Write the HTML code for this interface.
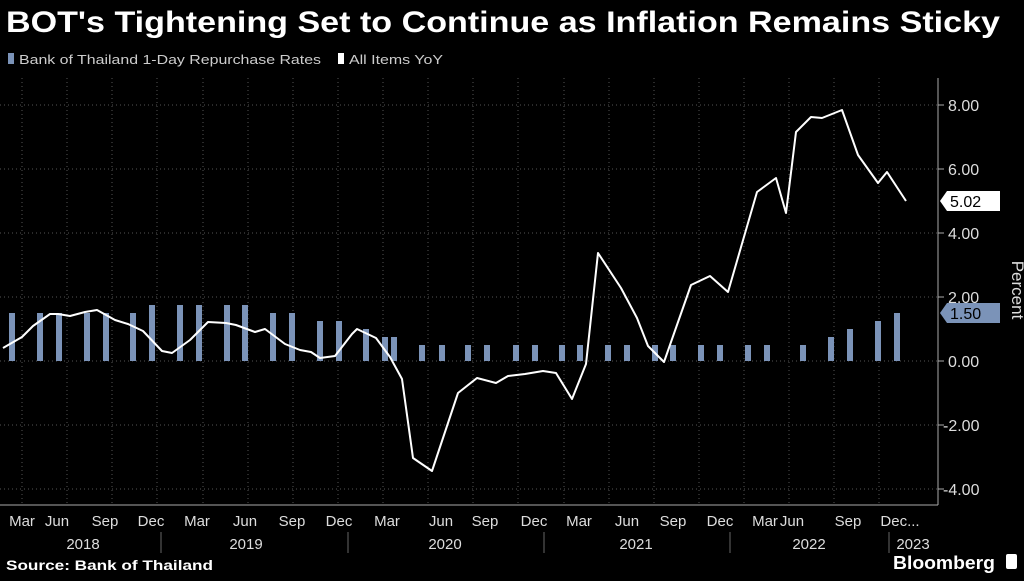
<!DOCTYPE html>
<html><head><meta charset="utf-8"><style>
body{margin:0;background:#000;width:1024px;height:576px;overflow:hidden;font-family:"Liberation Sans",sans-serif;color:#fff}
</style></head><body>
<svg width="1024" height="576" xmlns="http://www.w3.org/2000/svg" font-family="Liberation Sans, sans-serif">
<rect width="1024" height="576" fill="#000"/>
<text x="6" y="32" font-size="30" font-weight="bold" fill="#fff" textLength="994" lengthAdjust="spacingAndGlyphs">BOT's Tightening Set to Continue as Inflation Remains Sticky</text>
<rect x="8" y="53" width="6" height="11" fill="#7b93b8"/>
<text x="19" y="64" font-size="13" fill="#ccc" textLength="302" lengthAdjust="spacingAndGlyphs">Bank of Thailand 1-Day Repurchase Rates</text>
<rect x="338" y="53" width="6" height="11" fill="#fff"/>
<text x="349" y="64" font-size="13" fill="#ccc" textLength="94" lengthAdjust="spacingAndGlyphs">All Items YoY</text>
<g stroke="#555" stroke-dasharray="1,3" stroke-width="1">
<line x1="0" y1="105" x2="938" y2="105"/><line x1="0" y1="169" x2="938" y2="169"/><line x1="0" y1="233" x2="938" y2="233"/><line x1="0" y1="297" x2="938" y2="297"/><line x1="0" y1="361" x2="938" y2="361"/><line x1="0" y1="425" x2="938" y2="425"/><line x1="0" y1="489" x2="938" y2="489"/>
<line x1="22" y1="78" x2="22" y2="505"/><line x1="67" y1="78" x2="67" y2="505"/><line x1="112" y1="78" x2="112" y2="505"/><line x1="157" y1="78" x2="157" y2="505"/><line x1="203" y1="78" x2="203" y2="505"/><line x1="248" y1="78" x2="248" y2="505"/><line x1="293" y1="78" x2="293" y2="505"/><line x1="338" y1="78" x2="338" y2="505"/><line x1="383" y1="78" x2="383" y2="505"/><line x1="428" y1="78" x2="428" y2="505"/><line x1="473" y1="78" x2="473" y2="505"/><line x1="518" y1="78" x2="518" y2="505"/><line x1="564" y1="78" x2="564" y2="505"/><line x1="609" y1="78" x2="609" y2="505"/><line x1="654" y1="78" x2="654" y2="505"/><line x1="699" y1="78" x2="699" y2="505"/><line x1="744" y1="78" x2="744" y2="505"/><line x1="789" y1="78" x2="789" y2="505"/><line x1="834" y1="78" x2="834" y2="505"/><line x1="879" y1="78" x2="879" y2="505"/>
</g>
<line x1="938" y1="78" x2="938" y2="505" stroke="#aaa"/>
<line x1="0" y1="505" x2="938" y2="505" stroke="#aaa"/>
<g fill="#7b93b8">
<rect x="9" y="313" width="6" height="48"/><rect x="37" y="313" width="6" height="48"/><rect x="56" y="313" width="6" height="48"/><rect x="84" y="313" width="6" height="48"/><rect x="103" y="313" width="6" height="48"/><rect x="130" y="313" width="6" height="48"/>
<rect x="149" y="305" width="6" height="56"/><rect x="177" y="305" width="6" height="56"/><rect x="196" y="305" width="6" height="56"/><rect x="224" y="305" width="6" height="56"/><rect x="242" y="305" width="6" height="56"/>
<rect x="270" y="313" width="6" height="48"/><rect x="289" y="313" width="6" height="48"/>
<rect x="317" y="321" width="6" height="40"/><rect x="336" y="321" width="6" height="40"/>
<rect x="363" y="329" width="6" height="32"/><rect x="382" y="337" width="6" height="24"/><rect x="391" y="337" width="6" height="24"/>
<rect x="419" y="345" width="6" height="16"/><rect x="439" y="345" width="6" height="16"/><rect x="465" y="345" width="6" height="16"/><rect x="484" y="345" width="6" height="16"/><rect x="513" y="345" width="6" height="16"/><rect x="532" y="345" width="6" height="16"/><rect x="559" y="345" width="6" height="16"/><rect x="577" y="345" width="6" height="16"/><rect x="605" y="345" width="6" height="16"/><rect x="624" y="345" width="6" height="16"/><rect x="652" y="345" width="6" height="16"/><rect x="670" y="345" width="6" height="16"/><rect x="698" y="345" width="6" height="16"/><rect x="717" y="345" width="6" height="16"/><rect x="745" y="345" width="6" height="16"/><rect x="764" y="345" width="6" height="16"/><rect x="800" y="345" width="6" height="16"/>
<rect x="828" y="337" width="6" height="24"/><rect x="847" y="329" width="6" height="32"/><rect x="875" y="321" width="6" height="40"/><rect x="894" y="313" width="6" height="48"/>
</g>
<polyline fill="none" stroke="#fff" stroke-width="2" stroke-linejoin="round" points="3,348 22,337 33,326 50,314 58,314 70,316 85,312 97,310 115,320 128,324 143,331 162,351 172,353 190,340 208,322 226,323 236,325 255,332 265,329 285,344 300,350 311,352 320,358 335,356 352,334 357,329 376,338 390,357 402,379 413,458 432,471 458,393 477,378 496,383 508,376 525,374 543,371 556,373 572,399 586,364 598,253 621,288 637,318 648,346 664,362 691,285 710,276 728,292 757,192 776,178 786,213 796,132 811,117 822,118 842,110 858,155 878,183 887,172 906,201"/>
<g font-size="16" fill="#ddd">
<text x="948" y="111">8.00</text><text x="948" y="175">6.00</text><text x="948" y="239">4.00</text><text x="948" y="303">2.00</text><text x="948" y="367">0.00</text><text x="943" y="431">-2.00</text><text x="943" y="495">-4.00</text>
</g>
<g stroke="#aaa"><line x1="938" y1="105" x2="944" y2="105"/><line x1="938" y1="169" x2="944" y2="169"/><line x1="938" y1="233" x2="944" y2="233"/><line x1="938" y1="297" x2="944" y2="297"/><line x1="938" y1="361" x2="944" y2="361"/><line x1="938" y1="425" x2="944" y2="425"/><line x1="938" y1="489" x2="944" y2="489"/></g>
<polygon points="940,201 947,191 1000,191 1000,211 947,211" fill="#fff"/>
<text x="950" y="207" font-size="16" fill="#000">5.02</text>
<polygon points="940,313 947,303 1000,303 1000,323 947,323" fill="#7b93b8"/>
<text x="950" y="319" font-size="16" fill="#000">1.50</text>
<text transform="translate(1012,290) rotate(90)" font-size="17" fill="#ddd" text-anchor="middle">Percent</text>
<g font-size="15" fill="#ddd" text-anchor="middle">
<text x="22" y="526">Mar</text><text x="57" y="526">Jun</text><text x="105" y="526">Sep</text><text x="151" y="526">Dec</text><text x="197" y="526">Mar</text><text x="245" y="526">Jun</text><text x="292" y="526">Sep</text><text x="339" y="526">Dec</text><text x="387" y="526">Mar</text><text x="441" y="526">Jun</text><text x="485" y="526">Sep</text><text x="534" y="526">Dec</text><text x="579" y="526">Mar</text><text x="627" y="526">Jun</text><text x="673" y="526">Sep</text><text x="720" y="526">Dec</text><text x="765" y="526">Mar</text><text x="792" y="526">Jun</text><text x="848" y="526">Sep</text><text x="900" y="526">Dec...</text>
<text x="83" y="549">2018</text><text x="246" y="549">2019</text><text x="445" y="549">2020</text><text x="636" y="549">2021</text><text x="809" y="549">2022</text><text x="913" y="549">2023</text>
</g>
<g stroke="#666"><line x1="161" y1="532" x2="161" y2="553"/><line x1="348" y1="532" x2="348" y2="553"/><line x1="544" y1="532" x2="544" y2="553"/><line x1="730" y1="532" x2="730" y2="553"/><line x1="889" y1="532" x2="889" y2="553"/></g>
<text x="6" y="570" font-size="14" font-weight="bold" fill="#fff" textLength="207" lengthAdjust="spacingAndGlyphs">Source: Bank of Thailand</text>
<text x="893" y="569" font-size="18" font-weight="bold" fill="#fff" textLength="102" lengthAdjust="spacingAndGlyphs">Bloomberg</text>
<rect x="1006" y="554" width="11" height="15" rx="2" fill="#fff"/>
</svg>
</body></html>
